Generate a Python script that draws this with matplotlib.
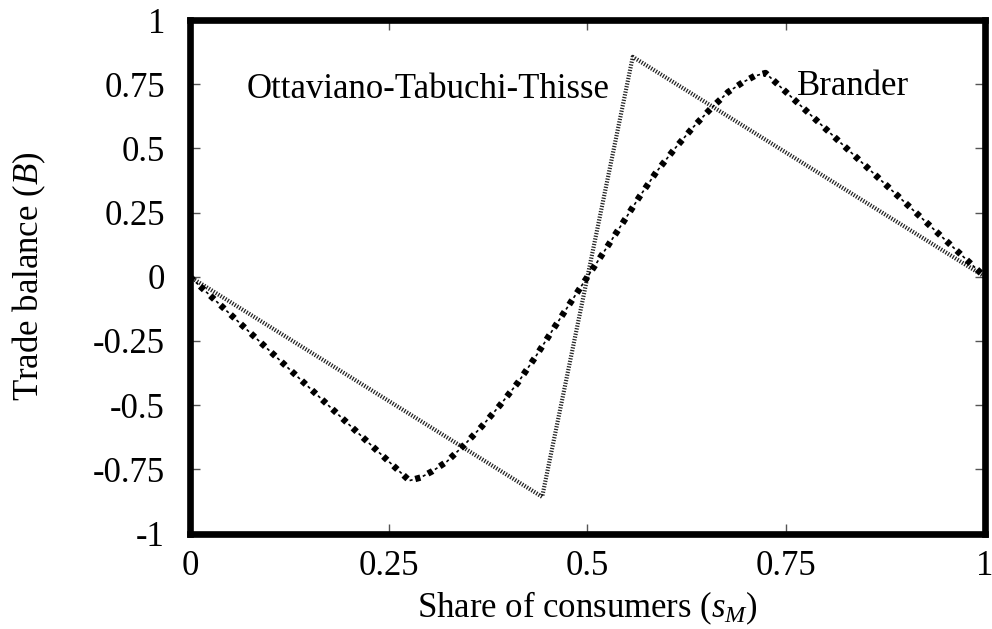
import matplotlib
matplotlib.use("Agg")
import matplotlib.pyplot as plt

# data
ott_x = [0.0, 0.443, 0.557, 1.0]
ott_y = [0.0, -0.857, 0.857, 0.0]

brander_x = [0.0, 0.276, 0.29, 0.305, 0.323, 0.345, 0.367, 0.39, 0.413, 0.435,
             0.455, 0.48, 0.50, 0.52, 0.545, 0.565, 0.587, 0.61, 0.633, 0.655,
             0.677, 0.695, 0.71, 0.724, 1.0]
brander_y = [0.0, -0.794, -0.782, -0.757, -0.72, -0.655, -0.583, -0.50, -0.41, -0.31,
             -0.213, -0.094, 0.0, 0.094, 0.213, 0.31, 0.41, 0.50, 0.583, 0.655,
             0.72, 0.757, 0.782, 0.794, 0.0]

x_ticks = [0, 0.25, 0.5, 0.75, 1]
x_tick_labels = ["0", "0.25", "0.5", "0.75", "1"]
y_ticks = [-1, -0.75, -0.5, -0.25, 0, 0.25, 0.5, 0.75, 1]
y_tick_labels = ["-1", "-0.75", "-0.5", "-0.25", "0", "0.25", "0.5", "0.75", "1"]

plt.rcParams["font.family"] = ["Liberation Serif", "DejaVu Serif"]
plt.rcParams["mathtext.fontset"] = "custom"
plt.rcParams["mathtext.rm"] = "Liberation Serif"
plt.rcParams["mathtext.it"] = "Liberation Serif:italic"
plt.rcParams["lines.scale_dashes"] = False
fs = 25

fig = plt.figure(figsize=(9.92, 6.29), dpi=100)
ax = fig.add_axes([0.1915, 0.1518, 0.9929 - 0.1915, 0.968 - 0.1518])

# Ottaviano-Tabuchi-Thisse: fine dotted line
ax.plot(ott_x, ott_y, color="#222222", lw=3.0, linestyle=(0, (0.9, 1.1)),
        solid_capstyle="butt", dash_capstyle="butt")

# Brander: thick dots + thin dashes on the same path
ax.plot(brander_x, brander_y, color="black", lw=4.6, linestyle=(0, (3.8, 6.2)),
        dash_capstyle="butt")
ax.plot(brander_x, brander_y, color="black", lw=1.2, linestyle=(4.2, (2.2, 7.8)),
        dash_capstyle="butt")

ax.text(0.528, 0.73, "Ottaviano-Tabuchi-Thisse", fontsize=fs, ha="right", va="center")
ax.text(0.764, 0.74, "Brander", fontsize=fs, ha="left", va="center")

ax.set_xlim(0, 1)
ax.set_ylim(-1, 1)
ax.set_xticks(x_ticks)
ax.set_xticklabels(x_tick_labels)
ax.set_yticks(y_ticks)
ax.set_yticklabels(y_tick_labels)
ax.tick_params(axis="both", direction="in", length=7, width=1.0, color="#555555",
               top=True, right=True, labelsize=fs)
ax.tick_params(axis="x", pad=12)
ax.tick_params(axis="y", pad=18)

for sp in ax.spines.values():
    sp.set_linewidth(4.8)
    sp.set_color("black")

ax.set_xlabel("Share of consumers ($s_M$)", fontsize=fs)
ax.set_ylabel("Trade balance ($B$)", fontsize=fs)
ax.xaxis.set_label_coords(0.5, -0.11)
ax.yaxis.set_label_coords(-0.178, 0.5)

fig.savefig("out.png", dpi=100)
